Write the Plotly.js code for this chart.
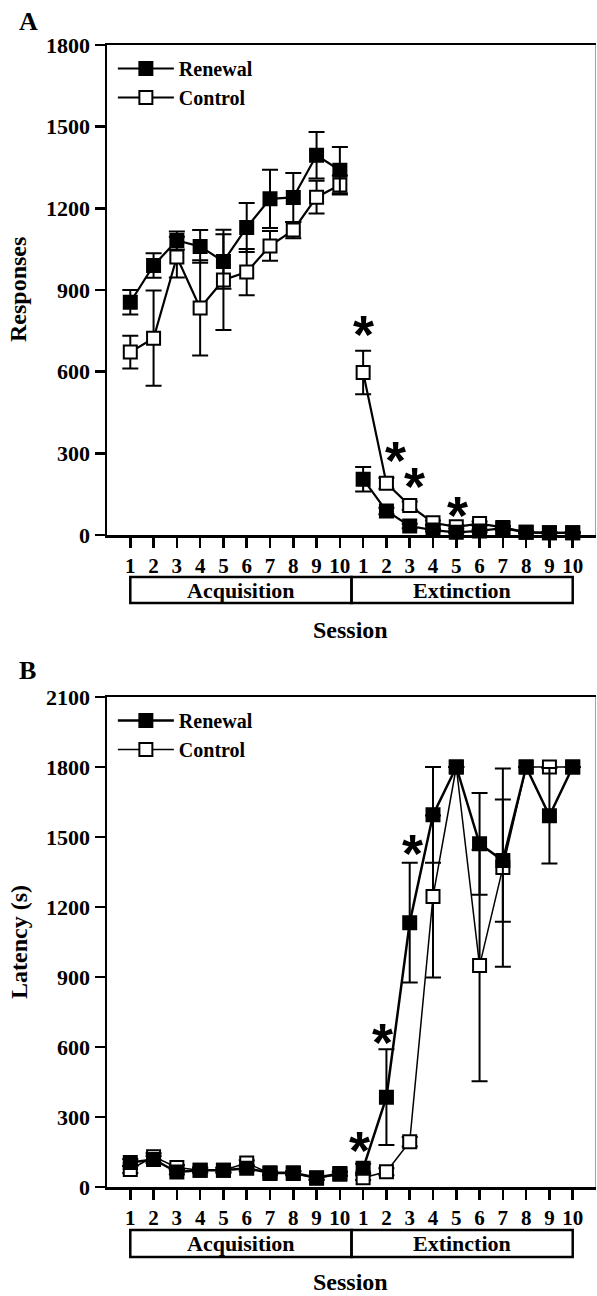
<!DOCTYPE html>
<html><head><meta charset="utf-8">
<script src="https://cdn.plot.ly/plotly-3.0.1.min.js"></script>
<style>html,body{margin:0;padding:0;background:#fff}#chart{width:597px;height:1296px}</style>
</head><body><div id="chart"></div>
<script>
// ---- data ----
const sessionLabels = ['1','2','3','4','5','6','7','8','9','10','1','2','3','4','5','6','7','8','9','10'];
const acqPos = [1,2,3,4,5,6,7,8,9,10];
const extPos = [11,12,13,14,15,16,17,18,19,20];
const phaseLabels = ['Acquisition','Extinction'];
const groupNames = ['Renewal','Control'];

// Panel A: responses
const renewalAcqResp    = [855, 990, 1082, 1060, 1005, 1130, 1235, 1240, 1395, 1340];
const renewalAcqRespErr = [45, 45, 33, 60, 100, 90, 107, 90, 85, 85];
const controlAcqResp    = [672, 723, 1021, 834, 937, 966, 1062, 1120, 1241, 1286];
const controlAcqRespErr = [60, 175, 75, 175, 184, 85, 55, 30, 60, 35];
const renewalExtResp    = [205, 88, 33, 18, 10, 15, 25, 10, 8, 8];
const renewalExtRespErr = [45, 12, 8, 5, 4, 5, 6, 3, 2, 2];
const controlExtResp    = [597, 190, 108, 45, 30, 42, 28, 10, 8, 8];
const controlExtRespErr = [80, 20, 15, 8, 6, 8, 5, 3, 2, 2];

// Panel B: latency (s)
const renewalAcqLat    = [105, 118, 64, 72, 72, 80, 61, 61, 40, 58];
const renewalAcqLatErr = [15, 15, 10, 10, 10, 12, 8, 8, 8, 8];
const controlAcqLat    = [75, 130, 84, 72, 72, 103, 58, 58, 38, 55];
const controlAcqLatErr = [15, 15, 10, 10, 10, 12, 8, 8, 8, 8];
const renewalExtLat    = [80, 385, 1133, 1595, 1800, 1471, 1399, 1800, 1591, 1800];
const renewalExtLatErr = [20, 205, 257, 205, 0, 218, 262, 0, 205, 0];
const controlExtLat    = [40, 65, 194, 1245, 1800, 949, 1369, 1800, 1800, 1800];
const controlExtLatErr = [10, 15, 20, 347, 0, 496, 425, 0, 0, 0];

// significance markers: [x position, y value]
const starsA = [[11, 760], [12.37, 297], [13.22, 202], [15.07, 95]];
const starsB = [[10.86, 184], [11.85, 646], [13.14, 1458]];

// ---- layout helpers ----
const W = 597, H = 1296, L = 107, R = 1, T = 45, B = 109;
const plotH = H - T - B, plotW = W - L - R;
const py = p => (H - B - p) / plotH;
const px = p => (p - L) / plotW;
const serif = 'Liberation Serif';
const xNumFont = {family: serif, size: 21, weight: 700, color: '#000'};
const yNumFont = {family: serif, size: 22, weight: 700, color: '#000'};

function joinXY(a, e) { return {x: acqPos.concat([null], extPos), y: a.concat([null], e)}; }

function mk(name, acq, acqErr, ext, extErr, filled, xa, ya, legend, lw) {
  const d = joinXY(acq, ext);
  return {
    type: 'scatter', mode: 'lines+markers', name: name,
    x: d.x, y: d.y, xaxis: xa, yaxis: ya, legend: legend,
    legendrank: filled ? 1 : 2,
    cliponaxis: false,
    line: {color: '#000', width: lw},
    marker: {symbol: 'square', size: 13, color: filled ? '#000' : '#fff', line: {color: '#000', width: 2}},
    error_y: {type: 'data', array: acqErr.concat([0], extErr), visible: true, color: '#000', thickness: 2, width: 8}
  };
}

const data = [
  mk(groupNames[1], controlAcqResp, controlAcqRespErr, controlExtResp, controlExtRespErr, false, 'x', 'y', 'legend', 2.2),
  mk(groupNames[0], renewalAcqResp, renewalAcqRespErr, renewalExtResp, renewalExtRespErr, true, 'x', 'y', 'legend', 2.2),
  mk(groupNames[1], controlAcqLat, controlAcqLatErr, controlExtLat, controlExtLatErr, false, 'x2', 'y2', 'legend2', 1.5),
  mk(groupNames[0], renewalAcqLat, renewalAcqLatErr, renewalExtLat, renewalExtLatErr, true, 'x2', 'y2', 'legend2', 2.5)
];

function xax(anchor) {
  return {anchor: anchor, domain: [0, 1], range: [0, 21], tickmode: 'array', tickvals: acqPos.concat(extPos), ticktext: sessionLabels,
    ticks: 'outside', ticklen: 10, tickwidth: 2.5, tickcolor: '#000', showline: true, linewidth: 2.5, linecolor: '#000',
    mirror: true, showgrid: false, zeroline: false, tickfont: xNumFont, tickangle: 0, automargin: false, fixedrange: true};
}
function yax(anchor, dom, max) {
  return {anchor: anchor, domain: dom, range: [0, max], dtick: 300, tick0: 0,
    ticks: 'outside', ticklen: 10, tickwidth: 2.5, tickcolor: '#000', showline: true, linewidth: 2.5, linecolor: '#000',
    showgrid: false, zeroline: false, tickfont: yNumFont, automargin: false, fixedrange: true};
}

const domA = [py(535), 1], domB = [0, py(697)];

const shapes = [
  {type: 'line', xref: 'x', yref: 'y domain', x0: 21, x1: 21, y0: 0, y1: 1, line: {color: '#444', width: 1}},
  {type: 'line', xref: 'x2', yref: 'y2 domain', x0: 21, x1: 21, y0: 0, y1: 1, line: {color: '#444', width: 1}},
  {type: 'rect', xref: 'x', yref: 'paper', x0: 1, x1: 10.5, y0: py(603), y1: py(577), line: {color: '#000', width: 2.5}},
  {type: 'rect', xref: 'x', yref: 'paper', x0: 10.5, x1: 20, y0: py(603), y1: py(577), line: {color: '#000', width: 2.5}},
  {type: 'rect', xref: 'x2', yref: 'paper', x0: 1, x1: 10.5, y0: py(1257), y1: py(1230), line: {color: '#000', width: 2.5}},
  {type: 'rect', xref: 'x2', yref: 'paper', x0: 10.5, x1: 20, y0: py(1257), y1: py(1230), line: {color: '#000', width: 2.5}}
];

function txt(text, x, y, size, opts) {
  return Object.assign({text: text, x: x, y: y, xref: 'paper', yref: 'paper', showarrow: false,
    font: {family: serif, size: size, weight: 'bold', color: '#000'}, xanchor: 'center', yanchor: 'middle'}, opts || {});
}

const annotations = [
  txt('A', px(28), py(21), 26),
  txt('B', px(27), py(670), 26),
  txt('Responses', px(18), py(290), 24, {textangle: -90}),
  txt('Latency (s)', px(19), py(942), 24, {textangle: -90}),
  txt('Session', px(350), py(630), 24),
  txt('Session', px(350), py(1282), 24),
  txt(phaseLabels[0], 5.75, py(590), 22, {xref: 'x'}),
  txt(phaseLabels[1], 15.25, py(590), 22, {xref: 'x'}),
  txt(phaseLabels[0], 5.75, py(1243), 22, {xref: 'x2'}),
  txt(phaseLabels[1], 15.25, py(1243), 22, {xref: 'x2'})
];
const starFont = {family: 'Liberation Sans', size: 54, weight: 'bold', color: '#000'};
starsA.forEach(s => annotations.push({text: '*', x: s[0], y: s[1], xref: 'x', yref: 'y', showarrow: false, yshift: -6, font: starFont}));
starsB.forEach(s => annotations.push({text: '*', x: s[0], y: s[1], xref: 'x2', yref: 'y2', showarrow: false, yshift: -6, font: starFont}));

const legFont = {family: serif, size: 20, weight: 'bold', color: '#000'};
const layout = {
  width: W, height: H, margin: {l: L, r: R, t: T, b: B, pad: 0},
  paper_bgcolor: '#fff', plot_bgcolor: '#fff', showlegend: true,
  xaxis: xax('y'), yaxis: yax('x', domA, 1800),
  xaxis2: xax('y2'), yaxis2: yax('x2', domB, 2100),
  legend: {x: 0.012, xanchor: 'left', y: py(49), yanchor: 'top', bgcolor: 'rgba(0,0,0,0)', font: legFont, itemwidth: 56, traceorder: 'normal'},
  legend2: {x: 0.012, xanchor: 'left', y: py(701), yanchor: 'top', bgcolor: 'rgba(0,0,0,0)', font: legFont, itemwidth: 56, traceorder: 'normal'},
  shapes: shapes, annotations: annotations
};

Plotly.newPlot('chart', data, layout, {displayModeBar: false, staticPlot: true});
</script></body></html>
